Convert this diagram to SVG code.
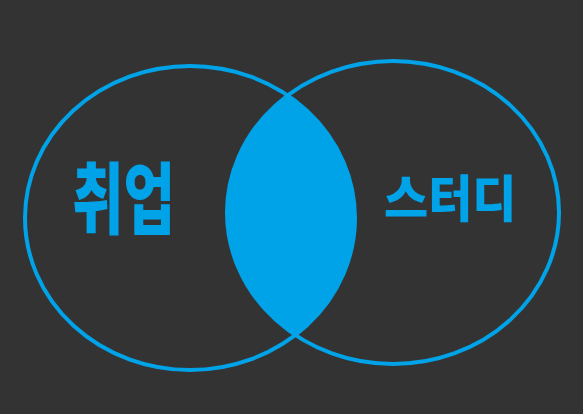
<svg xmlns="http://www.w3.org/2000/svg" width="583" height="414" viewBox="0 0 583 414">
<style>
.ring{fill:none;stroke:#00a3e8;stroke-width:4}
.lbl{font-family:"Noto Sans CJK KR","Noto Sans",sans-serif;font-weight:900;fill:#00a3e8}
</style>
<defs>
<clipPath id="clipL"><ellipse cx="190" cy="218" rx="165" ry="152"/></clipPath>
</defs>
<rect width="583" height="414" fill="#333333"/>
<g id="intersection">
<ellipse cx="393" cy="212.5" rx="166" ry="151.5" fill="#00a3e8" clip-path="url(#clipL)"/>
</g>
<g id="connectors"></g>
<g id="node-job">
<ellipse class="ring" cx="190" cy="218" rx="165" ry="152"/>
<text class="lbl" transform="translate(72,228) scale(1,1.4)" font-size="56">취업</text>
</g>
<g id="node-study">
<ellipse class="ring" cx="393" cy="212.5" rx="166" ry="151.5"/>
<text class="lbl" transform="translate(384,217) scale(1,1.05)" font-size="48">스터디</text>
</g>
</svg>
